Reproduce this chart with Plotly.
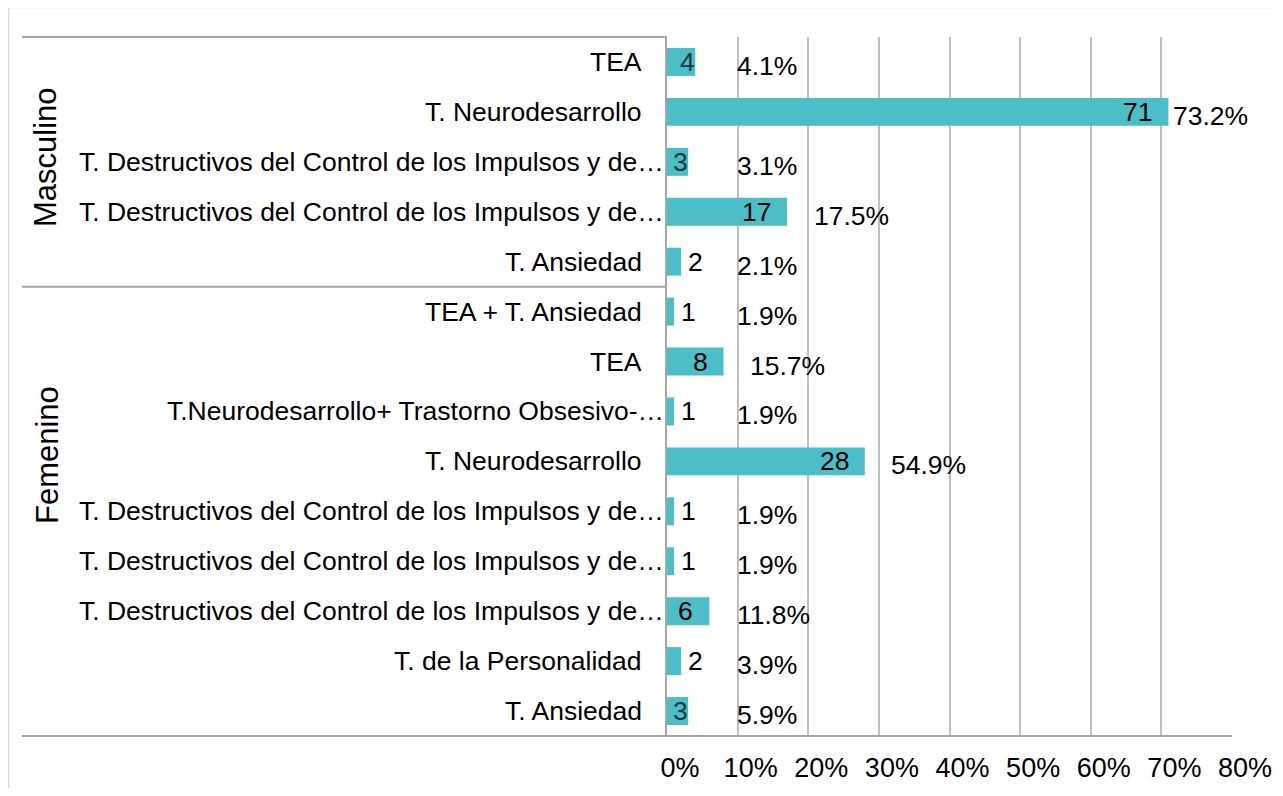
import plotly.graph_objects as go

# ---- data ----
groups = ["Masculino"] * 5 + ["Femenino"] * 9
labels = [
    "TEA",
    "T. Neurodesarrollo",
    "T. Destructivos del Control de los Impulsos y de…",
    "T. Destructivos del Control de los Impulsos y de…",
    "T. Ansiedad",
    "TEA + T. Ansiedad",
    "TEA",
    "T.Neurodesarrollo+ Trastorno Obsesivo-…",
    "T. Neurodesarrollo",
    "T. Destructivos del Control de los Impulsos y de…",
    "T. Destructivos del Control de los Impulsos y de…",
    "T. Destructivos del Control de los Impulsos y de…",
    "T. de la Personalidad",
    "T. Ansiedad",
]
counts = [4, 71, 3, 17, 2, 1, 8, 1, 28, 1, 1, 6, 2, 3]
percents = ["4.1%", "73.2%", "3.1%", "17.5%", "2.1%", "1.9%", "15.7%", "1.9%",
            "54.9%", "1.9%", "1.9%", "11.8%", "3.9%", "5.9%"]
x_ticks = [0, 10, 20, 30, 40, 50, 60, 70, 80]
x_tick_labels = ["0%", "10%", "20%", "30%", "40%", "50%", "60%", "70%", "80%"]

# ---- figure ----
OFF = 8  # page body margin
W, H = 1267, 780
L, R, T, B = 659, 43, 29, 52
pw, ph = W - L - R, H - T - B
FONT = "Liberation Sans, Arial, sans-serif"
BAR = "#4BBEC8"

keys = [f"{g}|{i}" for i, g in enumerate(groups)]

fig = go.Figure()
fig.add_trace(go.Bar(
    x=counts, y=keys, orientation="h",
    marker=dict(color=BAR, line=dict(width=0)),
    hoverinfo="skip",
))

def px_x(p):
    return (p - OFF - L) / pw

def px_y(p):
    return (OFF + T + ph - p) / ph

LBL = 26.5
annotations = []
for k, lab in zip(keys, labels):
    # category labels; truncated ones overflow up to the axis
    annotations.append(dict(x=0, y=k, text=lab, showarrow=False,
                            xanchor="right",
                            xshift=-1 if lab.endswith("…") else -23,
                            font=dict(family=FONT, size=26.5, color="#000")))

for k, c, p in zip(keys, counts, percents):
    # count label
    if c >= 5:
        annotations.append(dict(x=c, y=k, text=str(c), showarrow=False,
                                xanchor="right", xshift=-14,
                                font=dict(family=FONT, size=LBL, color="#000")))
    elif c >= 3:
        annotations.append(dict(x=c, y=k, text=str(c), showarrow=False,
                                xanchor="right", xshift=2,
                                font=dict(family=FONT, size=LBL, color="#1a3a3e")))
    else:
        annotations.append(dict(x=c, y=k, text=str(c), showarrow=False,
                                xanchor="left", xshift=5,
                                font=dict(family=FONT, size=LBL, color="#000")))
    # percent label
    if c > 60:
        px_pos = c
        shift = 3
    else:
        px_pos = max(c + 3.5, 9.6)
        shift = 0
    annotations.append(dict(x=px_pos, y=k, text=p, showarrow=False,
                            xanchor="left", xshift=shift, yshift=-4,
                            font=dict(family=FONT, size=LBL, color="#000")))

# group labels
annotations.append(dict(x=px_x(45), xref="paper", xanchor="center",
                        y=px_y(157), yref="paper", yanchor="middle",
                        text="Masculino", textangle=-90, showarrow=False,
                        font=dict(family=FONT, size=31, color="#000")))
annotations.append(dict(x=px_x(47), xref="paper", xanchor="center",
                        y=px_y(455), yref="paper", yanchor="middle",
                        text="Femenino", textangle=-90, showarrow=False,
                        font=dict(family=FONT, size=31, color="#000")))

div_color = "#A6A6A6"
shapes = [
    # outer frame
    dict(type="rect", xref="paper", yref="paper",
         x0=px_x(8.5), x1=px_x(1276), y0=px_y(806), y1=px_y(7.5),
         line=dict(color="#D9D9D9", width=1.5), layer="below"),
    # top divider
    dict(type="line", xref="paper", yref="paper",
         x0=px_x(22), x1=0, y0=1, y1=1,
         line=dict(color=div_color, width=2)),
    # group divider
    dict(type="line", xref="paper", yref="y",
         x0=px_x(22), x1=0, y0=4.5, y1=4.5,
         line=dict(color=div_color, width=2)),
    # bottom divider
    dict(type="line", xref="paper", yref="paper",
         x0=px_x(22), x1=1, y0=0, y1=0,
         line=dict(color=div_color, width=2)),
]

fig.update_layout(
    width=W, height=H,
    margin=dict(l=L, r=R, t=T, b=B, autoexpand=False),
    paper_bgcolor="white", plot_bgcolor="white",
    showlegend=False,
    bargap=0.44,
    annotations=annotations,
    shapes=shapes,
    font=dict(family=FONT, size=26, color="#000"),
)
fig.update_xaxes(
    range=[0, 80], tickvals=x_ticks, ticktext=x_tick_labels,
    showgrid=True, gridcolor="#BFBFBF", gridwidth=1.5,
    zeroline=False, showline=False,
    ticks="", ticklabelstandoff=13, ticklabelshift=13,
    tickfont=dict(family=FONT, size=27, color="#000"),
    fixedrange=True,
)
fig.update_yaxes(
    type="category", categoryorder="array", categoryarray=keys,
    autorange="reversed",
    showticklabels=False,
    showgrid=False, zeroline=False,
    showline=True, linecolor="#A6A6A6", linewidth=1.5,
    ticks="",
    fixedrange=True,
)

fig.write_html("out.html")
